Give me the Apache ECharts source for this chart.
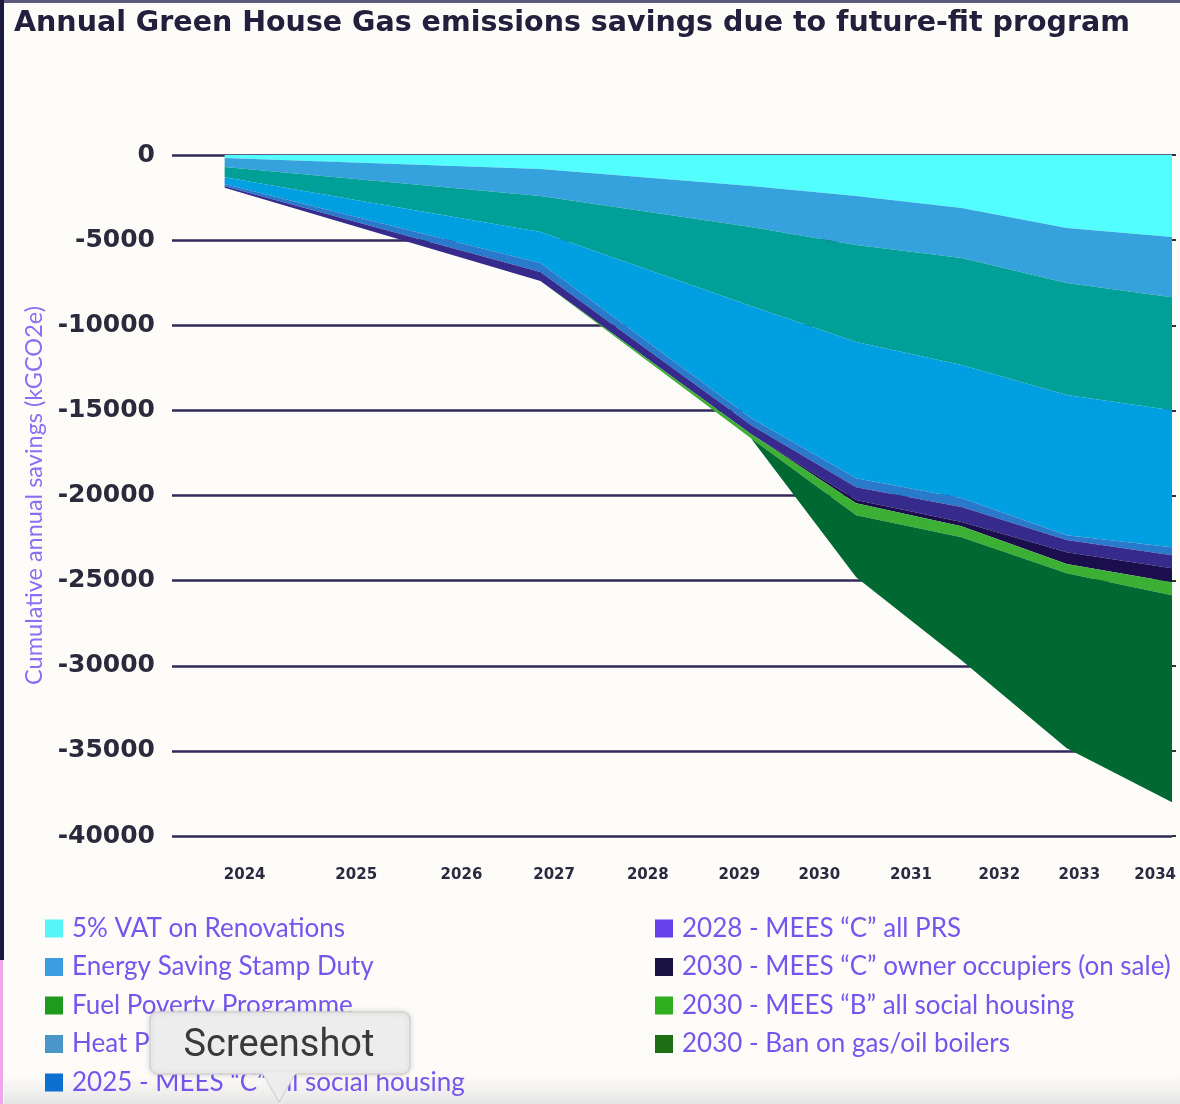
<!DOCTYPE html>
<html><head><meta charset="utf-8">
<script src="https://cdn.jsdelivr.net/npm/echarts@6/dist/echarts.min.js"></script>
<style>html,body{margin:0;padding:0;background:#fdfcf9;}#c{width:1180px;height:1104px;}</style>
</head><body><div id="c"></div>
<script>
// ---- data ----
const seriesNames = [
  '5% VAT on Renovations',
  'Energy Saving Stamp Duty',
  'Fuel Poverty Programme',
  'Heat Pump Grants',
  '2025 - MEES \u201cC\u201d all social housing',
  '2028 - MEES \u201cC\u201d all PRS',
  '2030 - MEES \u201cC\u201d owner occupiers (on sale)',
  '2030 - MEES \u201cB\u201d all social housing',
  '2030 - Ban on gas/oil boilers'
];
// x position of each data point (in step units along the time axis)
const xSteps = [0, 3, 5, 6, 7, 8, 9];
const vat            = [-180,  -820, -1820, -2410, -3110,  -4290,  -4820];
const stampDuty      = [-530, -1590, -2410, -2880, -2940,  -3230,  -3530];
const fuelPoverty    = [-590, -2110, -4640, -5700, -6290,  -6580,  -6640];
const heatPump       = [-410, -1820, -6580, -7990, -7810,  -8230,  -8050];
const mees2025Social = [-120,  -530,  -410,  -530,  -530,   -290,   -470];
const mees2028Prs    = [ -90,  -530,  -530,  -760,  -880,   -710,   -760];
const mees2030Owner  = [   0,     0,     0,  -180,  -240,   -700,   -820];
const mees2030SocialB= [   0,     0,  -240,  -710,  -650,   -530,   -770];
const boilerBan      = [   0,     0,     0, -3640, -7230, -10280, -12160];
const seriesValues = [vat, stampDuty, fuelPoverty, heatPump, mees2025Social, mees2028Prs, mees2030Owner, mees2030SocialB, boilerBan];

// tick labels
const yearLabels = ['2024','2025','2026','2027','2028','2029','2030','2031','2032','2033','2034'];
const yearLabelAt = [0.19, 1.25, 2.25, 3.13, 4.02, 4.89, 5.65, 6.52, 7.36, 8.12, 8.84];

// ---- styles ----
const areaColors = ['#53FEFE','#36A2DD','#00A098','#009FE2','#2A7ACB','#362A8C','#1B0E4C','#3CB034','#006831'];
const legendColors = ['#55F5F8','#3A9EE0','#1E9A1E','#4A96C8','#0D6FD0','#6641EA','#1A1240','#2FAE1E','#1E6E14'];
const legendText = {color:'#7655EE', fontSize:26, fontFamily:'Lato', lineHeight:27, padding:[0,0,0,4]};

const chart = echarts.init(document.getElementById('c'), null, {renderer:'canvas'});

// value first so the library stacks the value dimension (stacked by index)
const series = seriesNames.map((name, i) => ({
  name: name,
  type: 'line',
  stack: 'total',
  symbol: 'none',
  lineStyle: {width: 0},
  itemStyle: {color: areaColors[i]},
  areaStyle: {color: areaColors[i], opacity: 1},
  encode: {x: 1, y: 0},
  data: xSteps.map((x, k) => [seriesValues[i][k], x]),
  z: 2
}));

const legendData = seriesNames.map((n, i) => ({name: n, itemStyle: {color: legendColors[i]}}));

chart.setOption({
  backgroundColor: '#fdfcf9',
  animation: false,
  title: {
    text: 'Annual Green House Gas emissions savings due to future-fit program',
    left: 9, top: 4,
    textStyle: {fontFamily:'DejaVu Sans', fontWeight:'bold', fontSize:28.5, color:'#22203c'}
  },
  grid: {left: 172, right: 8, top: 155, bottom: 268},
  xAxis: {
    type: 'value', min: -0.5, max: 9,
    axisLine: {show:false}, axisTick: {show:false}, splitLine: {show:false},
    axisLabel: {
      customValues: yearLabelAt,
      formatter: v => yearLabels[yearLabelAt.indexOf(v)],
      margin: 32, fontFamily:'DejaVu Sans', fontWeight:'bold', fontSize:15, color:'#2a2a40'
    }
  },
  yAxis: [{
    type: 'value', min: -40000, max: 0, interval: 5000,
    name: 'Cumulative annual savings (kGCO2e)',
    nameLocation: 'middle', nameRotate: 90, nameGap: 125,
    nameTextStyle: {fontFamily:'Lato', fontSize:23.5, color:'#8a6ff4'},
    axisLine: {show:false}, axisTick: {show:false},
    axisLabel: {formatter: v => String(v), margin: 17, fontFamily:'DejaVu Sans', fontWeight:'bold', fontSize:25, color:'#2b2a3c'},
    splitLine: {show:true, lineStyle: {color:'#2f2a5a', width:2.5}}
  }, {
    type: 'value', min: -40000, max: 0, interval: 5000, position: 'right',
    axisLine: {show:false}, axisLabel: {show:false}, splitLine: {show:false},
    axisTick: {show:true, length:4, lineStyle:{color:'#333', width:2}}
  }],
  legend: [{
    orient: 'vertical', left: 45, top: 915, height: 189, padding: 0,
    itemWidth: 18, itemHeight: 18, itemGap: 11.5,
    icon: 'rect', textStyle: legendText, selectedMode: false,
    data: legendData.slice(0, 5)
  }, {
    orient: 'vertical', left: 655, top: 915, height: 189, padding: 0,
    itemWidth: 18, itemHeight: 18, itemGap: 11.5,
    icon: 'rect', textStyle: legendText, selectedMode: false,
    data: legendData.slice(5)
  }],
  graphic: [
    {type:'rect', shape:{x:0, y:0, width:1180, height:3}, style:{fill:'#5d5b7c'}, z:150},
    {type:'rect', shape:{x:0, y:0, width:4, height:960}, style:{fill:'#1c1a42'}, z:150},
    {type:'rect', shape:{x:0, y:960, width:3, height:144}, style:{fill:'#f0a6ef'}, z:150},
    {type:'rect', shape:{x:4, y:1074, width:1176, height:30}, z:1,
      style:{fill:{type:'linear', x:0, y:0, x2:0, y2:1, colorStops:[{offset:0, color:'rgba(235,235,235,0)'},{offset:1, color:'rgba(228,228,228,1)'}]}}},
    {type:'polygon', zlevel:1, z:1, shape:{points:[[261,1070],[297,1070],[279,1102]]},
      style:{fill:'#ededed', stroke:'#d2d2d2', lineWidth:1.5}},
    {type:'rect', zlevel:1, z:2, shape:{x:150, y:1012, width:260, height:62, r:8},
      style:{fill:'#ededed', stroke:'#d2d2d2', lineWidth:1.5, shadowBlur:6, shadowColor:'rgba(0,0,0,0.15)'}},
    {type:'polygon', zlevel:1, z:3, shape:{points:[[262,1072],[296,1072],[279,1100]]}, style:{fill:'#ededed'}},
    {type:'text', zlevel:1, z:4, x:279, y:1046, style:{text:'Screenshot', fontFamily:'Roboto', fontSize:38, fill:'#3a3a3a', align:'center', verticalAlign:'middle'}}
  ],
  series: series
});
</script>
</body></html>
